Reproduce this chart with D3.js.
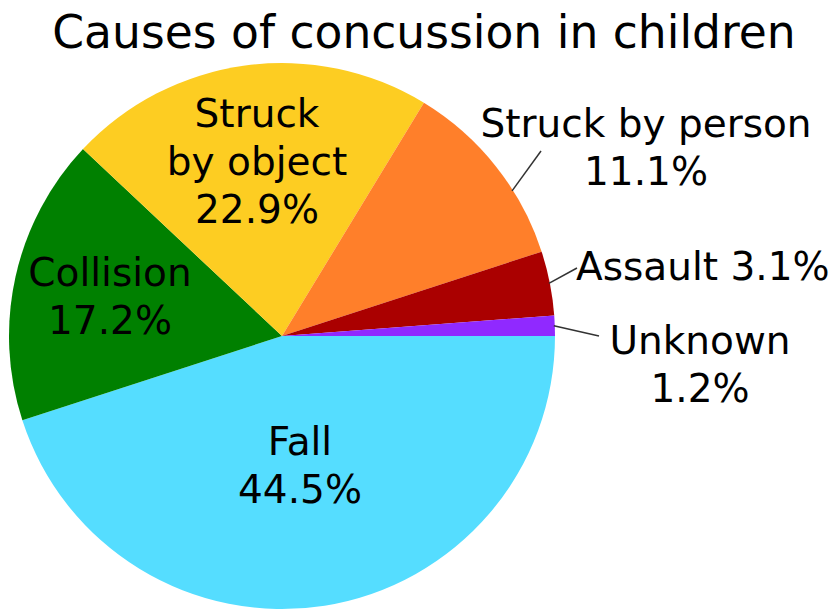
<!DOCTYPE html>
<html>
<head>
  <meta charset="utf-8">
  <script src="https://cdnjs.cloudflare.com/ajax/libs/d3/7.8.5/d3.min.js"></script>
  <title>Causes of concussion in children</title>
  <style>
    body { margin: 0; background: #fff; }
    text { font-family: "DejaVu Sans", sans-serif; fill: #000; }
  </style>
</head>
<body>
<script>
// data
var causes = ["Fall", "Collision", "Struck by object", "Struck by person", "Assault", "Unknown"];
// printed percentages
var percents = [44.5, 17.2, 22.9, 11.1, 3.1, 1.2];
// slice sizes as actually drawn in the picture (measured from the angles)
var sliceShares = [45.0, 17.0, 21.7, 11.3, 3.8, 1.2];
var colors = ["#55ddff", "#008000", "#fdcd22", "#ff7f2a", "#aa0000", "#9029ff"];
// label text lines per slice ("%" line added below)
var labelLines = [["Fall"], ["Collision"], ["Struck", "by object"], ["Struck by person"], ["Assault"], ["Unknown"]];

var width = 838, height = 609;
var cx = 282, cy = 336, r = 273;

// label placement: x, first baseline, anchor, inline pct, leader end point, leader spot along slice
var labelLayout = [
  { x: 300, y: 455 },
  { x: 110, y: 286 },
  { x: 257, y: 127 },
  { x: 646, y: 137, lead: [541, 151], at: 0.65 },
  { x: 576, y: 280, anchor: "start", inline: true, lead: [577, 268] },
  { x: 700, y: 354, lead: [599, 336] }
];

var svg = d3.select("body").append("svg")
    .attr("width", width)
    .attr("height", height);

svg.append("text")
    .attr("x", 424)
    .attr("y", 48)
    .attr("text-anchor", "middle")
    .style("font-size", "45.6px")
    .text("Causes of concussion in children");

var pie = d3.pie()
    .sort(null)
    .startAngle(Math.PI / 2)
    .endAngle(Math.PI / 2 + 2 * Math.PI);

var arc = d3.arc().innerRadius(0).outerRadius(r);

var arcs = pie(sliceShares);

var g = svg.append("g")
    .attr("transform", "translate(" + cx + "," + cy + ")");

g.selectAll("path")
  .data(arcs)
  .enter().append("path")
    .attr("d", arc)
    .attr("fill", function(d, i) { return colors[i]; });

// leader lines from the slice edge to the label
arcs.forEach(function(d, i) {
  var L = labelLayout[i];
  if (!L.lead) return;
  var f = L.at == null ? 0.5 : L.at;
  var a = d.startAngle + (d.endAngle - d.startAngle) * f;
  var x0 = cx + (r - 1) * Math.sin(a), y0 = cy - (r - 1) * Math.cos(a);
  svg.append("line")
      .attr("x1", x0).attr("y1", y0)
      .attr("x2", L.lead[0]).attr("y2", L.lead[1])
      .attr("stroke", "#333")
      .attr("stroke-width", 1.5);
});

// labels
arcs.forEach(function(d, i) {
  var L = labelLayout[i];
  var pct = d3.format(".1f")(percents[i]) + "%";
  var lines = labelLines[i].slice();
  if (L.inline) lines[lines.length - 1] += " " + pct;
  else lines.push(pct);
  var t = svg.append("text")
      .attr("text-anchor", L.anchor || "middle")
      .style("font-size", "39px");
  lines.forEach(function(s, j) {
    t.append("tspan")
        .attr("x", L.x)
        .attr("y", L.y + j * 48)
        .text(s);
  });
});
</script>
</body>
</html>
